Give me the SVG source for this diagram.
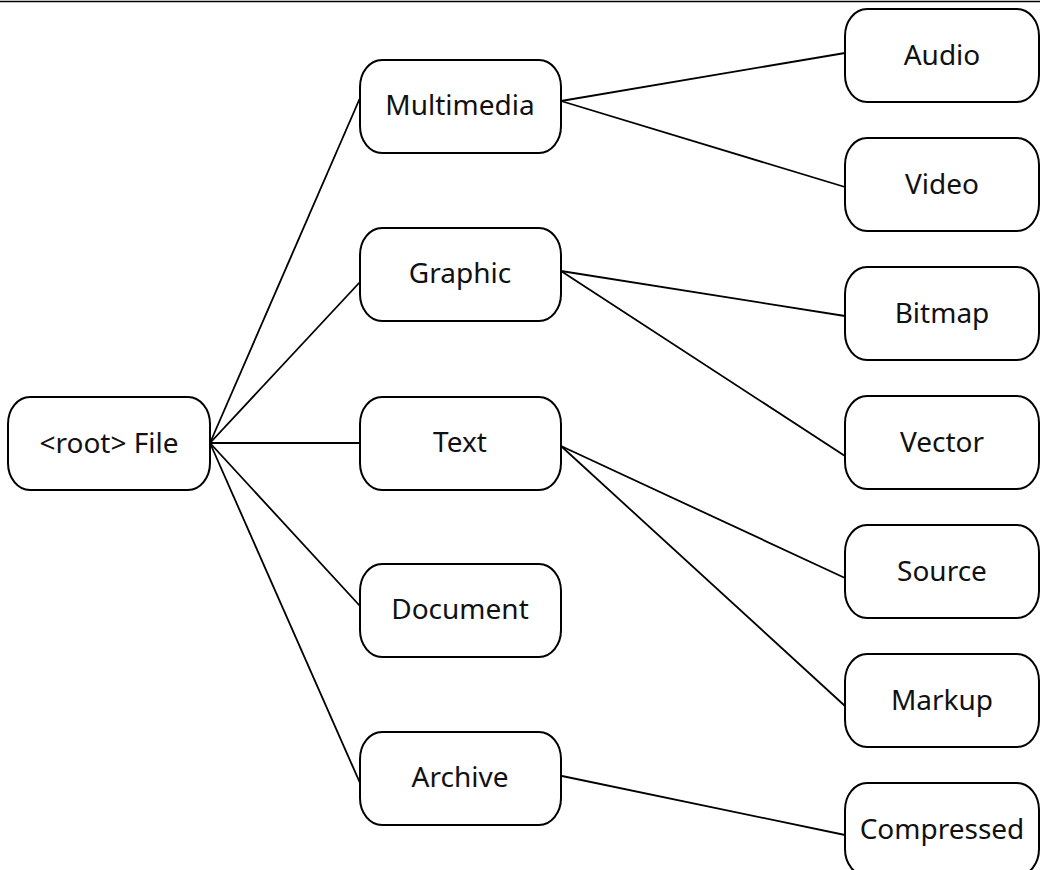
<svg xmlns="http://www.w3.org/2000/svg" width="1040" height="870" viewBox="0 0 1040 870">
  <style>
    .node rect { fill: #ffffff; stroke: #000000; stroke-width: 2; }
    .node text { font-family: "Noto Sans", "Open Sans", sans-serif; font-size: 28px; fill: #111111; text-anchor: middle; }
    #connectors line { stroke: #000000; stroke-width: 1.8; }
    .frame { stroke: #000000; stroke-width: 1.6; }
  </style>
  <rect x="0" y="0" width="1040" height="870" fill="#ffffff"/>
  <line class="frame" x1="0" y1="1.5" x2="1040" y2="1.5"/>

  <!-- tree edges -->
  <g id="connectors">
    <line x1="210" y1="443" x2="360" y2="98"/>
    <line x1="210" y1="443" x2="360" y2="282"/>
    <line x1="210" y1="443" x2="360" y2="443"/>
    <line x1="210" y1="443" x2="360" y2="606"/>
    <line x1="210" y1="443" x2="360" y2="783"/>
    <line x1="561" y1="101" x2="845" y2="53"/>
    <line x1="561" y1="101" x2="845" y2="187"/>
    <line x1="561" y1="271" x2="845" y2="316"/>
    <line x1="561" y1="271" x2="845" y2="456"/>
    <line x1="561" y1="446" x2="845" y2="578"/>
    <line x1="561" y1="446" x2="845" y2="706"/>
    <line x1="562" y1="776" x2="845" y2="835"/>
  </g>

  <!-- root -->
  <g id="root" class="node">
    <rect x="8" y="397" width="202" height="93" rx="22" ry="27"/>
    <text x="109" y="453">&lt;root&gt; File</text>
  </g>

  <!-- categories -->
  <g id="multimedia" class="node">
    <rect x="360" y="60" width="201" height="93" rx="22" ry="27"/>
    <text x="460" y="115">Multimedia</text>
  </g>
  <g id="graphic" class="node">
    <rect x="360" y="228" width="201" height="93" rx="22" ry="27"/>
    <text x="460" y="283">Graphic</text>
  </g>
  <g id="text" class="node">
    <rect x="360" y="397" width="201" height="93" rx="22" ry="27"/>
    <text x="460" y="452">Text</text>
  </g>
  <g id="document" class="node">
    <rect x="360" y="564" width="201" height="93" rx="22" ry="27"/>
    <text x="460" y="619">Document</text>
  </g>
  <g id="archive" class="node">
    <rect x="360" y="732" width="201" height="93" rx="22" ry="27"/>
    <text x="460" y="787">Archive</text>
  </g>

  <!-- leaf types -->
  <g id="audio" class="node">
    <rect x="845" y="9" width="194" height="93" rx="22" ry="27"/>
    <text x="942" y="65">Audio</text>
  </g>
  <g id="video" class="node">
    <rect x="845" y="138" width="194" height="93" rx="22" ry="27"/>
    <text x="942" y="194">Video</text>
  </g>
  <g id="bitmap" class="node">
    <rect x="845" y="267" width="194" height="93" rx="22" ry="27"/>
    <text x="942" y="323">Bitmap</text>
  </g>
  <g id="vector" class="node">
    <rect x="845" y="396" width="194" height="93" rx="22" ry="27"/>
    <text x="942" y="452">Vector</text>
  </g>
  <g id="source" class="node">
    <rect x="845" y="525" width="194" height="93" rx="22" ry="27"/>
    <text x="942" y="581">Source</text>
  </g>
  <g id="markup" class="node">
    <rect x="845" y="654" width="194" height="93" rx="22" ry="27"/>
    <text x="942" y="710">Markup</text>
  </g>
  <g id="compressed" class="node">
    <rect x="845" y="783" width="194" height="93" rx="22" ry="27"/>
    <text x="942" y="839">Compressed</text>
  </g>
</svg>
